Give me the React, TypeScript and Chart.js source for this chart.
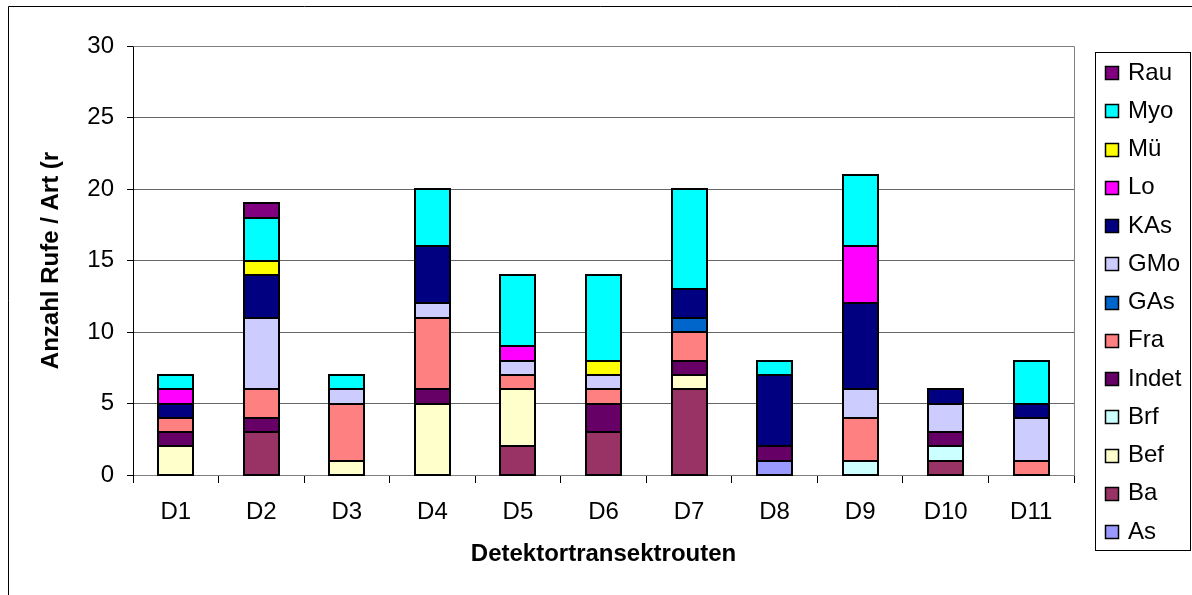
import React, { useEffect, useRef } from "react";
import { Chart, registerables } from "chart.js";

Chart.register(...registerables);

const categories = ["D1", "D2", "D3", "D4", "D5", "D6", "D7", "D8", "D9", "D10", "D11"];

// stacking order bottom -> top
const species = ["As", "Ba", "Bef", "Brf", "Indet", "Fra", "GAs", "GMo", "KAs", "Lo", "Mü", "Myo", "Rau"];

const As = [0, 0, 0, 0, 0, 0, 0, 1, 0, 0, 0];
const Ba = [0, 3, 0, 0, 2, 3, 6, 0, 0, 1, 0];
const Bef = [2, 0, 1, 5, 4, 0, 1, 0, 0, 0, 0];
const Brf = [0, 0, 0, 0, 0, 0, 0, 0, 1, 1, 0];
const Indet = [1, 1, 0, 1, 0, 2, 1, 1, 0, 1, 0];
const Fra = [1, 2, 4, 5, 1, 1, 2, 0, 3, 0, 1];
const GAs = [0, 0, 0, 0, 0, 0, 1, 0, 0, 0, 0];
const GMo = [0, 5, 1, 1, 1, 1, 0, 0, 2, 2, 3];
const KAs = [1, 3, 0, 4, 0, 0, 2, 5, 6, 1, 1];
const Lo = [1, 0, 0, 0, 1, 0, 0, 0, 4, 0, 0];
const Mue = [0, 1, 0, 0, 0, 1, 0, 0, 0, 0, 0];
const Myo = [1, 3, 1, 4, 5, 6, 7, 1, 5, 0, 3];
const Rau = [0, 1, 0, 0, 0, 0, 0, 0, 0, 0, 0];

const seriesValues = [As, Ba, Bef, Brf, Indet, Fra, GAs, GMo, KAs, Lo, Mue, Myo, Rau];

const colors = [
  "#9999FF", // As
  "#993366", // Ba
  "#FFFFCC", // Bef
  "#CCFFFF", // Brf
  "#660066", // Indet
  "#FF8080", // Fra
  "#0066CC", // GAs
  "#CCCCFF", // GMo
  "#000080", // KAs
  "#FF00FF", // Lo
  "#FFFF00", // Mü
  "#00FFFF", // Myo
  "#800080", // Rau
];

const yTicks = [0, 5, 10, 15, 20, 25, 30];

const FONT = "'Liberation Sans', Arial, sans-serif";

const framePlugin = {
  id: "framePlugin",
  beforeDraw(chart: any) {
    const ctx = chart.ctx;
    ctx.save();
    ctx.fillStyle = "#fff";
    ctx.fillRect(0, 0, chart.width, chart.height);
    ctx.strokeStyle = "#000";
    ctx.lineWidth = 1;
    ctx.beginPath();
    ctx.moveTo(8.5, chart.height);
    ctx.lineTo(8.5, 6.5);
    ctx.lineTo(chart.width, 6.5);
    ctx.stroke();
    ctx.restore();
  },
  afterDatasetsDraw(chart: any) {
    // uniform black outlines around every bar segment
    const ctx = chart.ctx;
    ctx.save();
    ctx.strokeStyle = "#000";
    ctx.lineWidth = 2;
    chart.data.datasets.forEach((_d: any, di: number) => {
      const meta = chart.getDatasetMeta(di);
      meta.data.forEach((el: any, i: number) => {
        const v = chart.data.datasets[di].data[i];
        if (v === null || v === undefined) return;
        const { x, y, base, width } = el.getProps(["x", "y", "base", "width"], true);
        const l = Math.round(x - width / 2);
        const r = Math.round(x + width / 2);
        const t = Math.round(y);
        const b = Math.round(base);
        ctx.strokeRect(l, t, r - l, b - t);
      });
    });
    ctx.restore();
  },
  afterDraw(chart: any) {
    const ctx = chart.ctx;
    const a = chart.chartArea;
    ctx.save();
    // plot area top & right border
    ctx.strokeStyle = "#808080";
    ctx.lineWidth = 1;
    ctx.beginPath();
    ctx.moveTo(Math.round(a.left) + 0.5, Math.round(a.top) + 0.5);
    ctx.lineTo(Math.round(a.right) + 0.5, Math.round(a.top) + 0.5);
    ctx.lineTo(Math.round(a.right) + 0.5, Math.round(a.bottom) + 0.5);
    ctx.stroke();

    // legend
    const bx = 1095.5, by = 52.5, bw = 95, bh = 498;
    ctx.strokeStyle = "#000";
    ctx.strokeRect(bx, by, bw, bh);
    const ds = chart.data.datasets;
    const n = ds.length;
    ctx.font = `24px ${FONT}`;
    ctx.textBaseline = "middle";
    ctx.textAlign = "left";
    for (let i = 0; i < n; i++) {
      const d = ds[n - 1 - i];
      const cy = 72 + i * 38.25;
      ctx.fillStyle = d.backgroundColor;
      ctx.fillRect(1105.5, Math.round(cy - 6) + 0.5, 13, 13);
      ctx.strokeStyle = "#000";
      ctx.lineWidth = 1.5;
      ctx.strokeRect(1105.5, Math.round(cy - 6) + 0.5, 13, 13);
      ctx.fillStyle = "#000";
      ctx.fillText(d.label, 1128, cy + 1);
    }
    ctx.restore();
  },
};

export default function App() {
  const ref = useRef<HTMLCanvasElement>(null);

  useEffect(() => {
    if (!ref.current) return;
    const chart = new Chart(ref.current, {
      type: "bar",
      data: {
        labels: categories,
        datasets: species.map((name, i) => ({
          label: name,
          data: seriesValues[i].map((v) => (v === 0 ? null : v)),
          backgroundColor: colors[i],
          borderWidth: 0,
          barPercentage: 0.41,
          categoryPercentage: 1,
        })),
      },
      options: {
        responsive: false,
        animation: false,
        layout: { padding: { left: 0, top: 46, right: 118, bottom: 0 } },
        plugins: {
          legend: { display: false },
          tooltip: { enabled: false },
        },
        scales: {
          x: {
            stacked: true,
            afterFit: (s: any) => {
              s.height = 120;
            },
            grid: {
              display: true,
              drawOnChartArea: false,
              drawTicks: true,
              tickLength: 8,
              tickColor: "#000",
              offset: true,
            },
            border: { display: true, color: "#808080", width: 1 },
            ticks: {
              color: "#000",
              font: { family: FONT, size: 24 },
              padding: 15,
              maxRotation: 0,
            },
            title: {
              display: true,
              text: "Detektortransektrouten",
              color: "#000",
              font: { family: FONT, size: 24, weight: "bold" },
              padding: { top: 0, bottom: 26 },
            },
          },
          y: {
            stacked: true,
            min: 0,
            max: 30,
            afterFit: (s: any) => {
              s.width = 133;
            },
            afterBuildTicks: (s: any) => {
              s.ticks = yTicks.map((v) => ({ value: v }));
            },
            grid: {
              color: "#666",
              tickColor: "#000",
              tickLength: 6,
              lineWidth: 1,
            },
            border: { display: true, color: "#000", width: 1 },
            ticks: {
              color: "#000",
              font: { family: FONT, size: 24 },
              padding: 13,
            },
            title: {
              display: true,
              text: "Anzahl Rufe / Art (r",
              color: "#000",
              font: { family: FONT, size: 24, weight: "bold" },
              padding: { top: 37, bottom: 0 },
            },
          },
        },
      },
      plugins: [framePlugin],
    });
    return () => chart.destroy();
  }, []);

  return (
    <div style={{ position: "absolute", left: 0, top: 0, width: 1192, height: 595 }}>
      <canvas ref={ref} width={1192} height={595} style={{ display: "block" }} />
    </div>
  );
}
